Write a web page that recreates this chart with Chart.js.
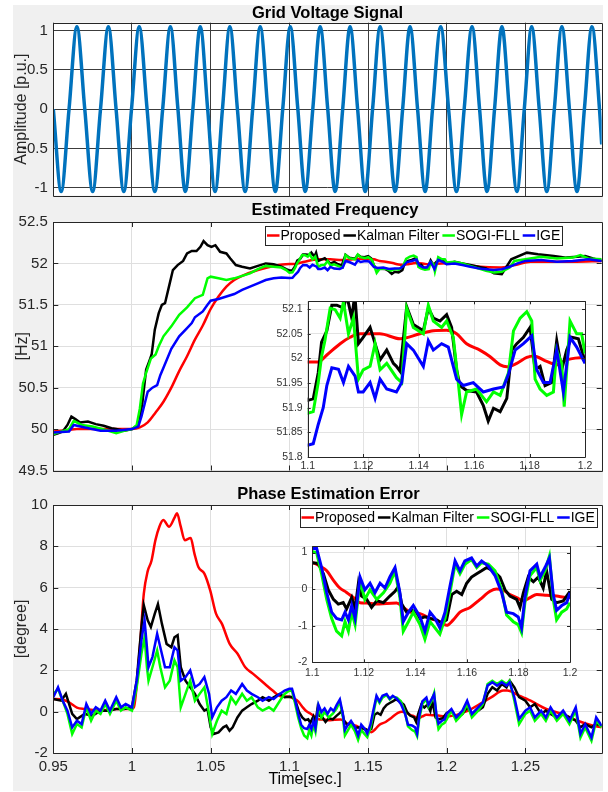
<!DOCTYPE html>
<html>
<head>
<meta charset="utf-8">
<script src="https://cdn.jsdelivr.net/npm/chart.js@4.4.1/dist/chart.umd.min.js"></script>
<style>
body { margin: 0; background: #fff; width: 608px; height: 792px; overflow: hidden; }
#fig { position: absolute; left: 13px; top: 5px; width: 590px; height: 786px; background: #f0f0f0; }
canvas { position: absolute; }
</style>
</head>
<body>
<div id="fig"></div>
<canvas id="volt" width="608" height="210" style="left:0;top:0"></canvas>
<canvas id="freq" width="608" height="285" style="left:0;top:200px"></canvas>
<canvas id="phase" width="608" height="308" style="left:0;top:484px"></canvas>
<canvas id="freqIn" width="345" height="190" style="left:255px;top:290px"></canvas>
<canvas id="phaseIn" width="330" height="150" style="left:260px;top:535px"></canvas>
<script>
"use strict";
// ticks
const mainTimeTicks = [0.95, 1, 1.05, 1.1, 1.15, 1.2, 1.25];
const insetTimeTicks = [1.1, 1.12, 1.14, 1.16, 1.18, 1.2];
const voltTicks = [-1, -0.5, 0, 0.5, 1];
const freqTicks = [49.5, 50, 50.5, 51, 51.5, 52, 52.5];
const freqInsetTicks = [51.8, 51.85, 51.9, 51.95, 52, 52.05, 52.1];
const phaseTicks = [-2, 0, 2, 4, 6, 8, 10];
const phaseInsetTicks = [-2, -1, 0, 1];

const legendLabels = ['Proposed', 'Kalman Filter', 'SOGI-FLL', 'IGE'];
const seriesColors = ['#ff0000', '#000000', '#00ff00', '#0000ff'];

// grid voltage: zero crossings and extrema
const gridVoltage = [
  [0.95,0],[0.955,-1.05],[0.96,0],[0.965,1.05],[0.97,0],[0.975,-1.05],[0.98,0],[0.985,1.05],
  [0.9899,0],[0.9948,-1.05],[0.9997,0],[1.0046,1.05],[1.0096,0],[1.0145,-1.05],[1.0195,0],[1.0244,1.05],
  [1.0292,0],[1.0339,-1.05],[1.0387,0],[1.0434,1.05],[1.0481,0],[1.0528,-1.05],[1.0575,0],[1.0622,1.05],
  [1.067,0],[1.0719,-1.05],[1.0767,0],[1.0815,1.05],[1.0863,0],[1.0911,-1.05],[1.0958,0],[1.1006,1.05],
  [1.1054,0],[1.1101,-1.05],[1.1149,0],[1.1196,1.05],[1.1244,0],[1.1291,-1.05],[1.1339,0],[1.1386,1.05],
  [1.1434,0],[1.1482,-1.05],[1.1529,0],[1.1577,1.05],[1.1625,0],[1.1672,-1.05],[1.172,0],[1.1767,1.05],
  [1.1815,0],[1.1863,-1.05],[1.191,0],[1.1962,1.05],[1.2012,0],[1.2062,-1.05],[1.2111,0],[1.2161,1.05],
  [1.2209,0],[1.2256,-1.05],[1.2304,0],[1.2351,1.05],[1.2398,0],[1.2446,-1.05],[1.2493,0],[1.254,1.05],
  [1.2588,0],[1.2636,-1.05],[1.2684,0],[1.2732,1.05],[1.278,0],[1.2828,-1.05],[1.2875,0],[1.2923,1.05],
  [1.2971,0],[1.2985,-0.45]
];

// estimated frequency [Hz]
const freqProposed = [
  [0.95,49.97],[0.955,49.98],[0.96,49.99],[0.965,50],[0.97,50],[0.98,50],[0.99,50],[1.0,50],
  [1.005,50.02],[1.01,50.08],[1.015,50.2],[1.02,50.33],[1.025,50.5],[1.03,50.7],[1.035,50.88],[1.04,51.08],
  [1.045,51.25],[1.05,51.45],[1.055,51.6],[1.06,51.72],[1.065,51.8],[1.07,51.85],[1.08,51.92],[1.09,51.97],
  [1.1,51.993],[1.1038,51.993],[1.1069,52.007],[1.1117,52.03],[1.1153,52.043],[1.1189,52.05],[1.126,52.05],
  [1.1333,52.04],[1.1405,52.05],[1.1453,52.056],[1.1501,52.057],[1.1537,52.05],[1.1573,52.03],[1.1621,52.017],
  [1.1657,52.004],[1.1694,51.987],[1.1718,51.983],[1.1754,51.99],[1.179,52.002],[1.1814,52.005],[1.1862,51.994],
  [1.1898,51.987],[1.1934,51.997],[1.2,52.002],[1.21,51.99],[1.221,51.96],[1.2335,51.95],[1.2435,51.98],
  [1.2533,52.02],[1.265,52.02],[1.28,52.02],[1.2985,52.03]
];
const freqKalman = [
  [0.95,49.93],[0.953,49.95],[0.956,49.97],[0.959,50.05],[0.9615,50.15],[0.964,50.12],[0.967,50.08],[0.972,50.09],
  [0.977,50.06],[0.982,50.04],[0.987,50.01],[0.99,50],[0.995,49.98],[1.0,50],[1.004,50.05],[1.0065,50.3],
  [1.009,50.72],[1.011,50.82],[1.0125,50.9],[1.0145,51.2],[1.017,51.4],[1.019,51.5],[1.021,51.52],[1.0235,51.72],
  [1.026,51.92],[1.029,51.98],[1.0325,52.03],[1.035,52.12],[1.038,52.15],[1.041,52.15],[1.0435,52.2],[1.0455,52.27],
  [1.048,52.22],[1.0505,52.2],[1.053,52.22],[1.056,52.14],[1.06,52.12],[1.0625,52.06],[1.066,51.98],[1.07,51.96],
  [1.075,51.94],[1.08,51.97],[1.085,52],[1.09,51.99],[1.095,51.96],[1.098,51.93],
  [1.1,51.915],[1.102,51.918],[1.1038,51.971],[1.105,52.033],[1.1069,52.056],[1.1087,52.108],[1.1105,52.108],
  [1.113,52.102],[1.114,52.13],[1.1159,52.082],[1.117,52.13],[1.1183,52.03],[1.12,52.043],[1.1225,52.063],
  [1.1243,52.03],[1.1261,51.997],[1.1285,52.017],[1.1309,51.99],[1.132,51.984],[1.1333,51.974],[1.1357,52.105],
  [1.1381,52.069],[1.1417,52.056],[1.1435,52.102],[1.1453,52.082],[1.1477,52.076],[1.1501,52.089],[1.1519,52.063],
  [1.1537,51.977],[1.1549,51.945],[1.1573,51.935],[1.1609,51.932],[1.1633,51.905],[1.1651,51.873],[1.167,51.899],
  [1.1694,51.892],[1.1718,51.919],[1.1736,52.017],[1.1754,52.03],[1.1778,52.043],[1.1802,52.063],[1.182,51.977],
  [1.1838,51.984],[1.1856,51.945],[1.188,51.951],[1.1898,52.036],[1.1916,51.977],[1.1934,52.017],[1.1952,52.043],
  [1.1976,52.04],[1.2,51.994],
  [1.205,52.02],[1.21,52],[1.215,51.98],[1.22,51.96],[1.225,51.94],[1.23,51.88],[1.235,51.87],[1.241,52.05],
  [1.251,52.13],[1.258,52.11],[1.268,52.09],[1.276,52.07],[1.283,52.08],[1.288,52.09],[1.293,52.06],[1.2985,52.03]
];
const freqSogi = [
  [0.95,49.94],[0.955,49.97],[0.96,50],[0.963,50.1],[0.968,50.05],[0.975,50.03],[0.985,49.98],[0.99,49.95],
  [0.995,49.98],[1.0,50],[1.003,50.05],[1.005,50.25],[1.007,50.55],[1.009,50.68],[1.012,50.85],[1.015,50.9],
  [1.017,51],[1.02,51.12],[1.025,51.24],[1.03,51.38],[1.035,51.47],[1.04,51.58],[1.045,51.62],[1.048,51.82],
  [1.05,51.84],[1.055,51.82],[1.06,51.8],[1.065,51.82],[1.07,51.85],[1.075,51.88],[1.08,51.93],[1.085,51.97],
  [1.09,51.96],[1.095,51.95],[1.098,51.92],
  [1.1,51.889],[1.102,51.892],[1.1038,51.951],[1.105,52.004],[1.1062,52.036],[1.1081,52.102],[1.1099,52.099],
  [1.1117,52.082],[1.1129,52.115],[1.1147,52.05],[1.1165,52.082],[1.1183,51.958],[1.12,51.977],[1.1225,51.984],
  [1.1243,52.03],[1.1261,51.977],[1.1285,51.99],[1.132,51.961],[1.1339,51.951],[1.1357,52.102],[1.1381,52.063],
  [1.1417,52.05],[1.1435,52.108],[1.1453,52.076],[1.1483,52.063],[1.1501,52.076],[1.1525,52.043],[1.1543,51.951],
  [1.1555,51.886],[1.1573,51.932],[1.1609,51.938],[1.1645,51.912],[1.167,51.932],[1.1694,51.925],[1.1724,51.971],
  [1.1742,52.056],[1.1766,52.082],[1.179,52.095],[1.1808,52.076],[1.182,51.958],[1.1838,51.938],[1.1862,51.925],
  [1.1886,51.932],[1.1898,52.017],[1.1916,51.99],[1.1925,51.902],[1.1946,52.076],[1.197,52.05],[1.1988,52.05],
  [1.2,52.01],
  [1.205,52.02],[1.21,52],[1.215,51.97],[1.22,51.94],[1.225,51.91],[1.23,51.89],[1.235,51.9],[1.24,51.95],
  [1.243,52.03],[1.25,52.05],[1.26,52.08],[1.27,52.06],[1.28,52.07],[1.285,52.1],[1.29,52.06],[1.2985,52.05]
];
const freqIge = [
  [0.95,49.96],[0.96,49.97],[0.963,50.05],[0.97,50.02],[0.98,49.98],[0.99,49.98],[1.0,50],[1.004,50.03],
  [1.006,50.15],[1.008,50.3],[1.01,50.45],[1.013,50.5],[1.016,50.53],[1.018,50.65],[1.02,50.74],[1.025,50.97],
  [1.03,51.12],[1.035,51.22],[1.038,51.28],[1.04,51.35],[1.045,51.42],[1.048,51.5],[1.05,51.55],[1.055,51.57],
  [1.06,51.6],[1.065,51.63],[1.07,51.68],[1.075,51.72],[1.08,51.76],[1.085,51.8],[1.09,51.82],[1.095,51.83],
  [1.1,51.824],[1.102,51.827],[1.1038,51.866],[1.1056,51.9],[1.1069,51.945],[1.1087,51.981],[1.1111,51.978],
  [1.1129,51.951],[1.1147,51.984],[1.1171,51.964],[1.1183,51.932],[1.12,51.932],[1.1225,51.951],[1.1243,51.919],
  [1.1261,51.958],[1.1285,51.938],[1.132,51.932],[1.1339,51.951],[1.1357,52.03],[1.1381,52.017],[1.1417,51.984],
  [1.1435,52.036],[1.1453,52.017],[1.1483,52.03],[1.1507,52.023],[1.1537,51.958],[1.1561,51.945],[1.1597,51.951],
  [1.1633,51.932],[1.167,51.938],[1.1706,51.942],[1.1724,51.968],[1.1748,52.017],[1.1778,52.03],[1.1808,52.046],
  [1.1826,51.977],[1.185,51.951],[1.1874,51.951],[1.1898,52.017],[1.1922,51.932],[1.1946,52.043],[1.197,52.023],
  [1.2,51.99],
  [1.205,52],[1.21,51.98],[1.215,51.96],[1.22,51.94],[1.225,51.93],[1.23,51.92],[1.235,51.93],[1.24,51.96],
  [1.245,52],[1.25,52.03],[1.26,52.04],[1.27,52.02],[1.28,52.03],[1.29,52.05],[1.2985,52.03]
];

// phase estimation error [degree]
const phaseProposed = [
  [0.95,0.61],[0.955,0.6],[0.96,0.45],[0.965,0.2],[0.97,0.13],[0.98,0.05],[0.99,0.13],[1.0,0.13],
  [1.0012,0.21],[1.005,3.1],[1.0075,5.7],[1.01,6.8],[1.0124,7.3],[1.0149,8.3],[1.0174,8.95],[1.0199,9.27],
  [1.0236,8.95],[1.0273,9.43],[1.0286,9.6],[1.031,8.95],[1.0335,8.3],[1.0373,8.4],[1.0397,7.65],[1.0422,7.0],
  [1.046,6.68],[1.0497,5.87],[1.0534,4.74],[1.0571,4.26],[1.0621,3.28],[1.0671,2.8],[1.072,2.15],[1.077,1.83],
  [1.0845,1.34],[1.0894,1.02],[1.0944,0.75],
  [1.1,0.72],[1.103,0.63],[1.1056,0.5],[1.1082,0.24],[1.1107,0.03],[1.1133,-0.09],[1.1159,-0.23],[1.1185,-0.37],
  [1.1211,-0.38],[1.125,-0.41],[1.1288,-0.39],[1.1327,-0.38],[1.1353,-0.5],[1.1379,-0.63],[1.1418,-0.67],
  [1.1457,-0.8],[1.1495,-0.89],[1.1521,-0.99],[1.1547,-0.84],[1.1573,-0.63],[1.1612,-0.5],[1.1651,-0.28],
  [1.169,-0.06],[1.1715,0],[1.1741,-0.03],[1.1767,-0.15],[1.1793,-0.23],[1.1819,-0.32],[1.1845,-0.23],
  [1.1871,-0.15],[1.1909,-0.17],[1.1948,-0.19],[1.1987,-0.23],[1.2,-0.23],
  [1.205,-0.18],[1.21,-0.05],[1.2136,0.05],[1.221,0.37],[1.2285,0.7],[1.236,1.02],[1.2385,1.02],[1.246,0.78],
  [1.2533,0.53],[1.2633,0.13],[1.2732,-0.11],[1.2832,-0.44],[1.2931,-0.68],[1.2985,-0.75]
];
const phaseKalman = [
  [0.95,0.61],[0.955,0.53],[0.958,0.86],[0.962,-0.11],[0.965,-0.36],[0.97,-0.11],[0.975,-0.19],[0.98,0.05],
  [0.985,0.05],[0.99,0.13],[0.995,0.13],[1.0,0.21],[1.003,1.5],[1.006,4.1],[1.0075,5.15],[1.01,4.42],
  [1.012,4.1],[1.0145,4.74],[1.0165,5.2],[1.019,4.26],[1.022,3.28],[1.025,3.12],[1.027,3.6],[1.029,3.7],
  [1.031,2.15],[1.034,1.5],[1.037,1.18],[1.04,0.86],[1.043,0.37],[1.046,0.05],[1.048,0.13],[1.05,-0.76],
  [1.052,-1.08],[1.055,-1.0],[1.058,-0.76],[1.06,-0.68],[1.062,-0.92],[1.064,-0.76],[1.067,-0.28],[1.07,0.05],
  [1.073,0.21],[1.076,0.37],[1.08,0.53],[1.083,0.7],[1.087,0.53],[1.09,0.7],[1.094,0.86],[1.097,0.7],
  [1.1,0.72],[1.1023,0.7],[1.1043,0.42],[1.1062,-0.02],[1.1082,-0.28],[1.1101,-0.41],[1.112,-0.37],[1.1133,-0.54],
  [1.1153,-0.23],[1.1166,-0.54],[1.1179,0.16],[1.1191,-0.19],[1.1211,-0.28],[1.123,-0.5],[1.125,-0.32],[1.1276,-0.37],
  [1.1301,-0.19],[1.1321,-0.06],[1.1334,0.07],[1.1347,-0.41],[1.1366,-0.63],[1.1386,-0.58],[1.1405,-0.63],
  [1.1418,-0.8],[1.1437,-0.76],[1.1457,-0.8],[1.1483,-0.84],[1.1502,-0.93],[1.1521,-0.84],[1.1541,-0.15],
  [1.156,-0.06],[1.158,-0.15],[1.1599,0.16],[1.1618,0.33],[1.1638,0.42],[1.1657,0.5],[1.1677,0.59],[1.1702,0.5],
  [1.1728,0.33],[1.1748,-0.02],[1.1767,-0.19],[1.1793,-0.28],[1.1806,-0.5],[1.1819,-0.1],[1.1838,0.33],
  [1.1858,0.2],[1.1877,0.33],[1.1896,0.03],[1.1909,0.5],[1.1929,-0.28],[1.1948,-0.37],[1.1974,-0.32],[1.2,-0.06],
  [1.203,0.05],[1.206,-0.28],[1.21,-0.11],[1.213,0.21],[1.216,-0.11],[1.22,0.05],[1.223,0.21],[1.226,0.86],
  [1.229,1.18],[1.232,1.02],[1.235,1.34],[1.238,1.18],[1.24,1.5],[1.243,1.18],[1.246,0.7],[1.25,0.53],
  [1.253,0.21],[1.256,0.37],[1.26,-0.11],[1.263,0.05],[1.266,-0.11],[1.27,-0.28],[1.274,-0.11],[1.278,-0.28],
  [1.282,-0.44],[1.285,-0.76],[1.288,-0.6],[1.292,-0.76],[1.295,-0.6],[1.2985,-0.68]
];
const phaseSogi = [
  [0.95,0.86],[0.953,1.1],[0.956,0.53],[0.959,-0.11],[0.962,-1.08],[0.965,-0.6],[0.968,-0.76],[0.971,0.21],
  [0.974,-0.44],[0.977,0.05],[0.98,-0.11],[0.983,0.37],[0.986,-0.11],[0.99,0.53],[0.993,0.05],[0.996,0.21],
  [1.0,0.05],[1.003,1.18],[1.006,2.8],[1.008,3.6],[1.0095,2.15],[1.0105,1.5],[1.013,2.15],[1.016,2.96],
  [1.018,2.15],[1.021,1.18],[1.024,1.5],[1.027,2.48],[1.029,2.15],[1.031,0.21],[1.034,0.86],[1.037,1.5],
  [1.04,0.53],[1.043,0.86],[1.046,1.18],[1.049,-0.11],[1.051,-1.08],[1.054,-0.44],[1.057,0.05],[1.06,-0.11],
  [1.063,0.7],[1.066,0.37],[1.07,0.86],[1.073,0.53],[1.076,0.7],[1.08,0.21],[1.083,0.05],[1.087,0.21],
  [1.09,0.05],[1.094,0.53],[1.097,0.86],
  [1.1,1.03],[1.1017,0.99],[1.1036,0.42],[1.1056,-0.28],[1.1075,-0.8],[1.1094,-1.15],[1.1114,-1.28],[1.1127,-0.89],
  [1.114,-1.15],[1.1153,-0.63],[1.1166,-0.97],[1.1185,0.24],[1.1204,-0.28],[1.1224,-0.02],[1.125,-0.28],
  [1.1276,-0.1],[1.1301,0.16],[1.1321,0.5],[1.134,-0.23],[1.1353,-1.15],[1.1373,-0.89],[1.1392,-0.63],
  [1.1418,-0.97],[1.1437,-1.37],[1.1457,-0.89],[1.1476,-1.06],[1.1495,-1.23],[1.1515,-0.8],[1.1534,-0.1],
  [1.1554,0.68],[1.1573,0.42],[1.1592,0.68],[1.1618,0.81],[1.1638,0.59],[1.1657,0.72],[1.1683,0.68],[1.1709,0.5],
  [1.1735,-0.02],[1.1754,-0.71],[1.178,-0.89],[1.1799,-0.97],[1.1812,-1.19],[1.1825,-0.37],[1.1845,0.37],
  [1.1871,0.59],[1.1884,0.24],[1.1903,0.5],[1.192,0.9],[1.1935,-0.28],[1.1948,-0.84],[1.1968,-0.63],
  [1.1987,-0.54],[1.2,-0.37],
  [1.203,0.05],[1.206,-0.44],[1.21,-0.11],[1.213,0.37],[1.216,-0.28],[1.22,0.05],[1.223,0.37],[1.226,1.34],
  [1.229,1.5],[1.232,1.34],[1.235,1.5],[1.238,1.34],[1.24,1.5],[1.243,0.53],[1.246,-0.6],[1.25,-0.11],
  [1.253,0.05],[1.256,-0.44],[1.26,-0.11],[1.263,-0.44],[1.266,0.05],[1.27,-0.44],[1.274,-0.11],[1.278,-0.6],
  [1.282,0.05],[1.285,-1.25],[1.288,-0.76],[1.292,-1.41],[1.295,-0.44],[1.2985,-0.76]
];
const phaseIge = [
  [0.95,0.7],[0.953,1.18],[0.956,0.53],[0.959,0.05],[0.962,-0.76],[0.965,-0.44],[0.968,-0.6],[0.971,0.37],
  [0.974,-0.11],[0.977,0.21],[0.98,0.05],[0.983,0.53],[0.986,0.05],[0.99,0.7],[0.993,0.21],[0.996,0.37],
  [1.0,0.21],[1.003,1.5],[1.006,3.45],[1.008,4.42],[1.0095,3.12],[1.0105,2.15],[1.013,2.64],[1.016,3.77],
  [1.018,3.12],[1.021,2.15],[1.024,2.15],[1.027,3.12],[1.029,2.96],[1.031,1.5],[1.034,1.67],[1.037,2.0],
  [1.04,1.18],[1.043,1.34],[1.046,1.67],[1.049,0.86],[1.051,-0.28],[1.054,0.21],[1.057,0.53],[1.06,0.7],
  [1.063,1.02],[1.066,0.86],[1.07,1.34],[1.073,1.02],[1.076,0.86],[1.08,0.7],[1.083,0.53],[1.087,0.7],
  [1.09,0.61],[1.094,0.86],[1.097,1.02],
  [1.1,1.11],[1.1017,1.11],[1.1036,0.59],[1.1056,-0.1],[1.1075,-0.63],[1.1094,-0.8],[1.1114,-0.84],[1.1127,-0.63],
  [1.114,-0.84],[1.1153,-0.45],[1.1166,-0.8],[1.1185,0.33],[1.1204,-0.02],[1.1224,0.16],[1.1243,-0.1],
  [1.1263,0.16],[1.1282,0.03],[1.1301,0.33],[1.1321,0.59],[1.134,-0.1],[1.1353,-0.89],[1.1373,-0.63],
  [1.1392,-0.45],[1.1418,-0.76],[1.1437,-1.15],[1.1457,-0.63],[1.1476,-0.8],[1.1495,-1.06],[1.1515,-0.63],
  [1.1534,0.07],[1.1554,0.77],[1.1573,0.5],[1.1592,0.77],[1.1618,0.85],[1.1638,0.63],[1.1657,0.77],[1.1683,0.63],
  [1.1709,0.37],[1.1735,-0.1],[1.1754,-0.63],[1.178,-0.67],[1.1799,-0.76],[1.1812,-1.06],[1.1825,-0.23],
  [1.1845,0.5],[1.1871,0.68],[1.1884,0.33],[1.1903,0.59],[1.192,0.85],[1.1935,-0.15],[1.1948,-0.58],
  [1.1968,-0.45],[1.1987,-0.37],[1.2,-0.1],
  [1.203,0.13],[1.206,-0.28],[1.21,0.05],[1.213,0.53],[1.216,-0.11],[1.22,0.21],[1.223,0.45],[1.226,1.26],
  [1.229,1.42],[1.232,1.26],[1.235,1.42],[1.238,1.26],[1.24,1.42],[1.243,0.7],[1.246,-0.36],[1.25,0.05],
  [1.253,0.21],[1.256,-0.28],[1.26,0.05],[1.263,-0.28],[1.266,0.21],[1.27,-0.28],[1.274,0.05],[1.278,-0.44],
  [1.282,0.21],[1.285,-1.08],[1.288,-0.6],[1.292,-1.25],[1.295,-0.28],[1.2985,-0.68]
];

const FONT = "'Liberation Sans', Arial, Helvetica, sans-serif";
Chart.defaults.font.family = FONT;
Chart.defaults.color = '#262626';
Chart.defaults.animation = false;
Chart.defaults.elements.point.radius = 0;
Chart.defaults.plugins.legend.display = false;
Chart.defaults.plugins.tooltip.enabled = false;

function pts(pairs) {
  return pairs.map(p => ({ x: p[0], y: p[1] }));
}

function lineSets(list, width) {
  // proposed at the bottom, IGE on top (matlab plot order)
  return list.map((pairs, i) => ({
    label: legendLabels[i],
    data: pts(pairs),
    borderColor: seriesColors[i],
    borderWidth: width,
    cubicInterpolationMode: i === 0 ? 'monotone' : 'default',
    order: 4 - i,
    clip: 0
  }));
}

function timeAxis(min, max, ticks, o) {
  return {
    type: 'linear', min: min, max: max,
    afterBuildTicks: s => { s.ticks = ticks.map(v => ({ value: v })); },
    afterFit: s => { s.height = o.height; },
    grid: { color: o.grid, drawTicks: false },
    border: { display: false },
    ticks: {
      display: !!o.labels, padding: o.pad || 0, autoSkip: false, maxRotation: 0,
      font: { size: o.size || 15 }, color: o.color || '#262626',
      callback: v => String(v)
    }
  };
}

function valueAxis(min, max, ticks, o) {
  return {
    type: 'linear', min: min, max: max,
    afterBuildTicks: s => { s.ticks = ticks.map(v => ({ value: v })); },
    afterFit: s => { s.width = o.width; },
    grid: { color: o.grid, drawTicks: false },
    border: { display: false },
    ticks: {
      padding: o.pad || 5, autoSkip: false,
      font: { size: o.size || 15 }, color: o.color || '#262626',
      callback: v => String(v)
    },
    title: o.title
      ? { display: true, text: o.title, color: '#262626', font: { size: 16 }, padding: { top: o.titlePad, bottom: 0 } }
      : { display: false }
  };
}

// white axes background, box and inward ticks
const frame = {
  id: 'frame',
  beforeDraw(chart) {
    const a = chart.chartArea, ctx = chart.ctx;
    ctx.save();
    ctx.fillStyle = '#ffffff';
    ctx.fillRect(a.left, a.top, a.right - a.left, a.bottom - a.top);
    ctx.restore();
  },
  afterDatasetsDraw(chart, args, o) {
    const a = chart.chartArea, ctx = chart.ctx;
    const xs = chart.scales.x, ys = chart.scales.y;
    const L = o.tick || 0;
    ctx.save();
    ctx.strokeStyle = o.color || '#262626';
    ctx.lineWidth = 1;
    ctx.beginPath();
    if (L > 0) {
      xs.ticks.forEach(t => {
        const px = Math.round(xs.getPixelForValue(t.value)) + 0.5;
        ctx.moveTo(px, a.bottom); ctx.lineTo(px, a.bottom - L);
        ctx.moveTo(px, a.top); ctx.lineTo(px, a.top + L);
      });
      ys.ticks.forEach(t => {
        const py = Math.round(ys.getPixelForValue(t.value)) + 0.5;
        ctx.moveTo(a.left, py); ctx.lineTo(a.left + L, py);
        ctx.moveTo(a.right, py); ctx.lineTo(a.right - L, py);
      });
    }
    ctx.rect(Math.round(a.left) + 0.5, Math.round(a.top) + 0.5,
      Math.round(a.right) - Math.round(a.left), Math.round(a.bottom) - Math.round(a.top));
    ctx.stroke();
    ctx.restore();
  }
};

// matlab style boxed legend in one row
const boxLegend = {
  id: 'boxLegend',
  afterDraw(chart, args, o) {
    if (o.left === undefined) return;
    const ctx = chart.ctx;
    ctx.save();
    ctx.font = o.size + 'px ' + FONT;
    const widths = legendLabels.map(t => ctx.measureText(t).width);
    let total = 2;
    widths.forEach((w, i) => { total += 13.5 + w + (i < widths.length - 1 ? 3 : 1.5); });
    const top = o.top, h = o.height, cy = top + h / 2;
    ctx.fillStyle = '#ffffff';
    ctx.fillRect(o.left, top, total, h);
    ctx.strokeStyle = '#262626';
    ctx.lineWidth = 1;
    ctx.strokeRect(Math.round(o.left) + 0.5, top + 0.5, Math.round(total), h);
    let x = o.left + 2;
    legendLabels.forEach((t, i) => {
      ctx.strokeStyle = seriesColors[i];
      ctx.lineWidth = 2.5;
      ctx.beginPath();
      ctx.moveTo(x, cy); ctx.lineTo(x + 12.5, cy);
      ctx.stroke();
      ctx.fillStyle = '#000000';
      ctx.textAlign = 'left';
      ctx.textBaseline = 'middle';
      ctx.fillText(t, x + 13.5, cy + 0.5);
      x += 13.5 + widths[i] + 3;
    });
    ctx.restore();
  }
};

// titles and the time label
const captions = {
  id: 'captions',
  afterDraw(chart, args, o) {
    const ctx = chart.ctx;
    (o.items || []).forEach(c => {
      ctx.save();
      ctx.font = c.font;
      ctx.fillStyle = '#000000';
      ctx.textAlign = 'center';
      ctx.textBaseline = 'middle';
      ctx.fillText(c.text, c.x, c.y);
      ctx.restore();
    });
  }
};

const TITLE_FONT = 'bold 16.5px ' + FONT;
const MAIN_GRID = '#dfdfdf';

new Chart(document.getElementById('volt'), {
  type: 'line',
  data: {
    datasets: [{
      data: pts(gridVoltage), borderColor: '#0072BD', borderWidth: 3.5,
      cubicInterpolationMode: 'monotone', clip: 0
    }]
  },
  options: {
    responsive: false,
    layout: { padding: { top: 22.7, right: 6.3, left: 0, bottom: 0 } },
    scales: {
      x: timeAxis(0.95, 1.2985, mainTimeTicks, { height: 9, grid: '#3c3c3c', labels: false }),
      y: valueAxis(-1.1, 1.1, voltTicks, { width: 53.3, grid: '#3c3c3c', pad: 5.5, title: 'Amplitude [p.u.]', titlePad: 12.4 })
    },
    plugins: {
      frame: { tick: 0 },
      captions: { items: [{ text: 'Grid Voltage Signal', x: 327.5, y: 13.3, font: TITLE_FONT }] }
    }
  },
  plugins: [frame, captions]
});

new Chart(document.getElementById('freq'), {
  type: 'line',
  data: { datasets: lineSets([freqProposed, freqKalman, freqSogi, freqIge], 2.5) },
  options: {
    responsive: false,
    layout: { padding: { top: 22, right: 6.3, left: 0, bottom: 0 } },
    scales: {
      x: timeAxis(0.95, 1.2985, mainTimeTicks, { height: 6, grid: MAIN_GRID, labels: false }),
      y: valueAxis(49.5, 52.5, freqTicks, { width: 53.3, grid: MAIN_GRID, pad: 5.5, title: '[Hz]', titlePad: 12.9 })
    },
    plugins: {
      frame: { tick: 5 },
      boxLegend: { left: 265, top: 26, height: 19, size: 14 },
      captions: { items: [{ text: 'Estimated Frequency', x: 335, y: 10.8, font: TITLE_FONT }] }
    }
  },
  plugins: [frame, boxLegend, captions]
});

new Chart(document.getElementById('phase'), {
  type: 'line',
  data: { datasets: lineSets([phaseProposed, phaseKalman, phaseSogi, phaseIge], 2.5) },
  options: {
    responsive: false,
    layout: { padding: { top: 21, right: 6.3, left: 0, bottom: 0 } },
    scales: {
      x: timeAxis(0.95, 1.2985, mainTimeTicks, { height: 39, grid: MAIN_GRID, labels: true, pad: 4.5 }),
      y: valueAxis(-2, 10, phaseTicks, { width: 53.3, grid: MAIN_GRID, pad: 5.5, title: '[degree]', titlePad: 12.4 })
    },
    plugins: {
      frame: { tick: 5 },
      boxLegend: { left: 299.5, top: 24, height: 19, size: 14 },
      captions: { items: [
        { text: 'Phase Estimation Error', x: 328.5, y: 10.5, font: TITLE_FONT },
        { text: 'Time[sec.]', x: 305, y: 296, font: '16px ' + FONT }
      ] }
    }
  },
  plugins: [frame, boxLegend, captions]
});

// zoomed insets
new Chart(document.getElementById('freqIn'), {
  type: 'line',
  data: { datasets: lineSets([freqProposed, freqKalman, freqSogi, freqIge], 3) },
  options: {
    responsive: false,
    layout: { padding: { top: 6, right: 15, left: 0, bottom: 0 } },
    scales: {
      x: timeAxis(1.1, 1.2, insetTimeTicks, { height: 23, grid: '#e3e3e3', labels: true, pad: 3.2, size: 10.5, color: '#333333' }),
      y: valueAxis(51.8, 52.116, freqInsetTicks, { width: 52.7, grid: '#e3e3e3', pad: 5, size: 10.5, color: '#333333' })
    },
    plugins: { frame: { tick: 3 } }
  },
  plugins: [frame]
});

new Chart(document.getElementById('phaseIn'), {
  type: 'line',
  data: { datasets: lineSets([phaseProposed, phaseKalman, phaseSogi, phaseIge], 3) },
  options: {
    responsive: false,
    layout: { padding: { top: 5.7, right: 20, left: 0, bottom: 0 } },
    scales: {
      x: timeAxis(1.1, 1.2, insetTimeTicks, { height: 22.7, grid: '#e3e3e3', labels: true, pad: 4.1, size: 10.5, color: '#333333' }),
      y: valueAxis(-2, 1.17, phaseInsetTicks, { width: 52.3, grid: '#e3e3e3', pad: 5, size: 10.5, color: '#333333' })
    },
    plugins: { frame: { tick: 3 } }
  },
  plugins: [frame]
});
</script>
</body>
</html>
